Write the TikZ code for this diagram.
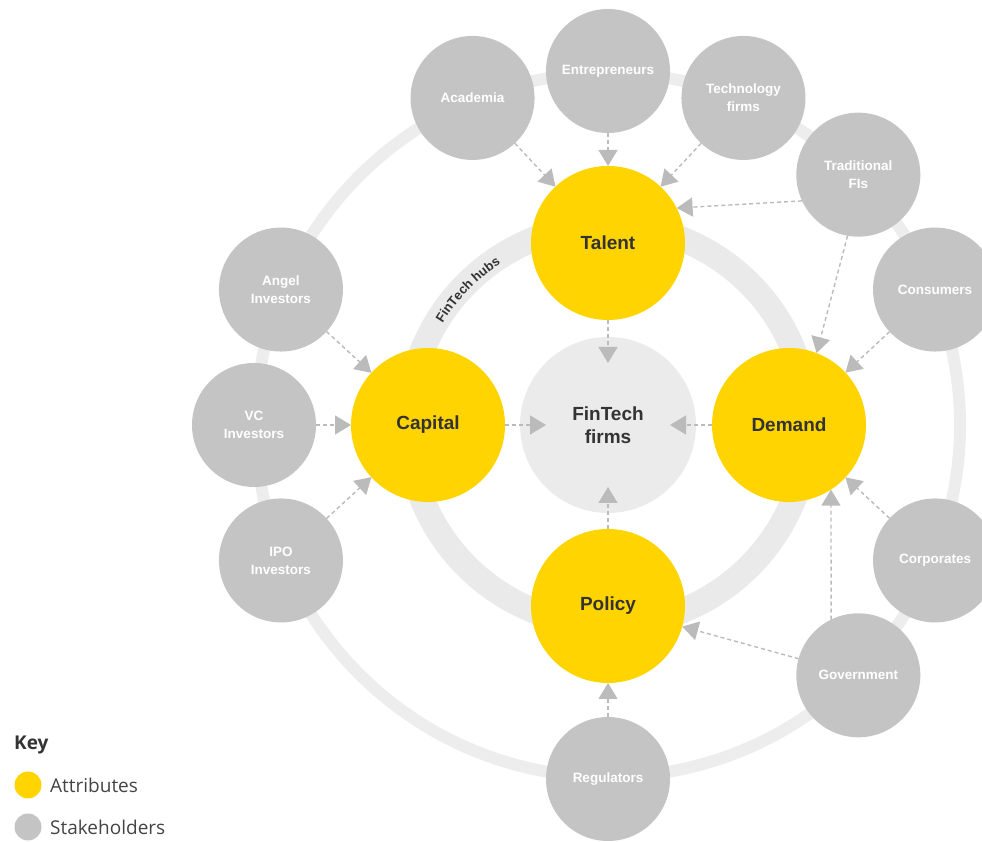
\documentclass[tikz,border=0pt]{standalone}
\usepackage{fontspec}
\setmainfont{Liberation Sans}
\newfontfamily\keyfont{Open Sans}
\usetikzlibrary{arrows.meta,decorations.text}
\definecolor{eyyellow}{HTML}{FFD400}
\definecolor{stakegrey}{HTML}{C4C4C4}
\definecolor{fingrey}{HTML}{EBEBEB}
\definecolor{ringgrey}{HTML}{EAEAEA}
\definecolor{outergrey}{HTML}{EDEDED}
\definecolor{arrgrey}{HTML}{BBBBBB}
\definecolor{darktext}{HTML}{333333}
\definecolor{keytext}{HTML}{444444}
\tikzset{
  attr/.style={circle, fill=eyyellow, minimum size=154pt, inner sep=0pt, outer sep=0pt,
    text=darktext, font=\bfseries\fontsize{19}{22}\selectfont},
  stake/.style={circle, fill=stakegrey, minimum size=124pt, inner sep=0pt, outer sep=0pt,
    text=white, align=center, font=\bfseries\fontsize{13.5}{18}\selectfont},
  core/.style={circle, fill=fingrey, minimum size=176pt, inner sep=0pt, outer sep=0pt,
    text=darktext, align=center, font=\bfseries\fontsize{19}{23}\selectfont},
  arr/.style={draw=arrgrey, line width=1.4pt, dash pattern=on 4pt off 3pt,
    -{Triangle[length=16pt,width=19pt,fill=arrgrey]}},
  keydot/.style={circle, minimum size=27pt, inner sep=0pt},
  keylabel/.style={anchor=west, inner sep=0pt, text=keytext, font=\keyfont\fontsize{19}{21}\selectfont}
}
\begin{document}
\begin{tikzpicture}[x=1pt,y=1pt]
\useasboundingbox (0,0) rectangle (982,842);
\coordinate (C) at (608,417);
% rings
\draw[line width=12pt, outergrey] (C) circle (352);
\draw[line width=25pt, ringgrey] (C) circle (200);
\path[decorate, decoration={text along path, text align=center,
  text={|\bfseries\fontsize{13}{13}\selectfont\color{darktext}|FinTech hubs}}]
  ([shift={(153:194)}]C) arc (153:119:194);
% centre and attributes
\node[core] (fin) at (C) {FinTech\\firms};
\node[attr] (talent) at ([shift={(90:182)}]C) {Talent};
\node[attr] (capital) at ([shift={(180:180)}]C) {Capital};
\node[attr] (demand) at ([shift={(0:181)}]C) {Demand};
\node[attr] (policy) at ([shift={(270:181)}]C) {Policy};
% arrow targets inside the centre circle
\coordinate (finN) at ([yshift=62pt]fin.center);
\coordinate (finS) at ([yshift=-62pt]fin.center);
\coordinate (finW) at ([xshift=-62pt]fin.center);
\coordinate (finE) at ([xshift=62pt]fin.center);
% stakeholders
\node[stake] (ent) at ([shift={(90:354)}]C) {Entrepreneurs};
\node[stake] (aca) at ([shift={(112.5:354)}]C) {Academia};
\node[stake] (tech) at ([shift={(67.5:354)}]C) {Technology\\firms};
\node[stake] (fis) at ([shift={(45:354)}]C) {Traditional\\FIs};
\node[stake] (cons) at ([shift={(22.5:354)}]C) {Consumers};
\node[stake] (corp) at ([shift={(-22.5:354)}]C) {Corporates};
\node[stake] (gov) at ([shift={(-45:354)}]C) {Government};
\node[stake] (reg) at ([shift={(-90:354)}]C) {Regulators};
\node[stake] (ipo) at ([shift={(202.5:354)}]C) {IPO\\Investors};
\node[stake] (vc) at ([shift={(180:354)}]C) {VC\\Investors};
\node[stake] (angel) at ([shift={(157.5:354)}]C) {Angel\\Investors};
% connectors
\draw[arr] (aca) -- (talent);
\draw[arr] (ent) -- (talent);
\draw[arr] (tech) -- (talent);
\draw[arr] (fis.205) -- (talent.27);
\draw[arr] (fis.260) -- (demand.69);
\draw[arr] (cons) -- (demand);
\draw[arr] (corp) -- (demand);
\draw[arr] (gov.116) -- (demand.-57);
\draw[arr] (gov) -- (policy);
\draw[arr] (reg) -- (policy);
\draw[arr] (angel) -- (capital);
\draw[arr] (vc) -- (capital);
\draw[arr] (ipo) -- (capital);
\draw[arr] (talent.south) -- (finN);
\draw[arr] (capital.east) -- (finW);
\draw[arr] (demand.west) -- (finE);
\draw[arr] (policy.north) -- (finS);
% key
\node[anchor=west, inner sep=0pt, text=darktext, font=\keyfont\bfseries\fontsize{19}{21}\selectfont] (keyt) at (14,97) {Key};
\node[keydot, fill=eyyellow] (kd1) at (28,57) {};
\node[keylabel] (kl1) at (50,57) {Attributes};
\node[keydot, fill=stakegrey] (kd2) at (28,15) {};
\node[keylabel] (kl2) at (50,15) {Stakeholders};
\end{tikzpicture}
\end{document}
